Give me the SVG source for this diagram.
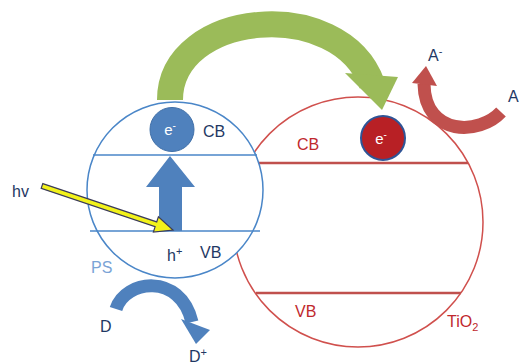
<svg xmlns="http://www.w3.org/2000/svg" width="519" height="364" viewBox="0 0 519 364">
<style>
text{font-family:"Liberation Sans",Arial,sans-serif;font-size:16px}
.nv{fill:#1f3864}
.rd{fill:#c0282d}
.wt{fill:#ffffff;font-size:15px}
.blu{fill:#4f81bd}
.bline{stroke:#4a86c8;stroke-width:1.5;fill:none}
.rline{stroke:#c0504d;stroke-width:2.5;fill:none}
</style>
<rect width="519" height="364" fill="#ffffff"/>
<g id="tio2">
<circle cx="358" cy="222" r="125" fill="none" stroke="#d0504d" stroke-width="1.5"/>
<line class="rline" x1="258" y1="163" x2="468" y2="163"/>
<line class="rline" x1="256" y1="293" x2="461" y2="293"/>
<text class="rd" x="297" y="150">CB</text>
<text class="rd" x="295" y="317">VB</text>
<text class="rd" x="447" y="327">TiO<tspan font-size="11" dy="4">2</tspan></text>
</g>
<g id="ps">
<circle cx="175" cy="190" r="88" fill="#ffffff" stroke="#4a86c8" stroke-width="1.5"/>
<line class="bline" x1="93" y1="155" x2="257" y2="155"/>
<line class="bline" x1="90" y1="231" x2="260" y2="231"/>
<text class="nv" x="203" y="137">CB</text>
<text class="nv" x="200" y="258">VB</text>
<text class="nv" x="167" y="261">h<tspan font-size="11" dy="-6">+</tspan></text>
<text x="91" y="273" fill="#7aa3d6">PS</text>
</g>
<g id="e-ps">
<circle cx="172" cy="129.5" r="22" class="blu" stroke="#3f6fa8" stroke-width="1"/>
<text class="wt" x="170" y="135" text-anchor="middle">e<tspan font-size="10" dy="-6">-</tspan></text>
</g>
<g id="e-tio2">
<circle cx="383" cy="138" r="22" fill="#b82025" stroke="#2f5496" stroke-width="2"/>
<text class="wt" x="381" y="144" text-anchor="middle">e<tspan font-size="10" dy="-6">-</tspan></text>
</g>
<g id="connectors">
<path d="M170,100 C170,10 340,-5 372,84" fill="none" stroke="#9bbb59" stroke-width="26"/>
<polygon points="345,73 398,77 382,110" fill="#9bbb59"/>
<polygon points="159,231 159,187 146,187 170,156 195,187 182,187 182,231" class="blu"/>
<polygon points="42.8,183.6 156.7,221.9 158.4,216.7 173,230 153.4,232 155.1,226.7 41.2,188.4" fill="#f2f21a" stroke="#3a3a5a" stroke-width="1.2" stroke-linejoin="miter"/>
<path d="M116,309 C125,280 180,272 192,322" fill="none" stroke="#4f81bd" stroke-width="13"/>
<polygon points="181,319 210,330 196,344" fill="#4f81bd"/>
<path d="M501,112 C480,135 425,137 424,84" fill="none" stroke="#c0504d" stroke-width="13"/>
<polygon points="412,83 426,66 437,86" fill="#c0504d"/>
</g>
<g id="labels">
<text class="nv" x="12" y="197">hv</text>
<text class="nv" x="100" y="332">D</text>
<text class="nv" x="189" y="362">D<tspan font-size="11" dy="-6">+</tspan></text>
<text class="nv" x="428" y="61">A<tspan font-size="11" dy="-6">-</tspan></text>
<text class="nv" x="508" y="102">A</text>
</g>
</svg>
